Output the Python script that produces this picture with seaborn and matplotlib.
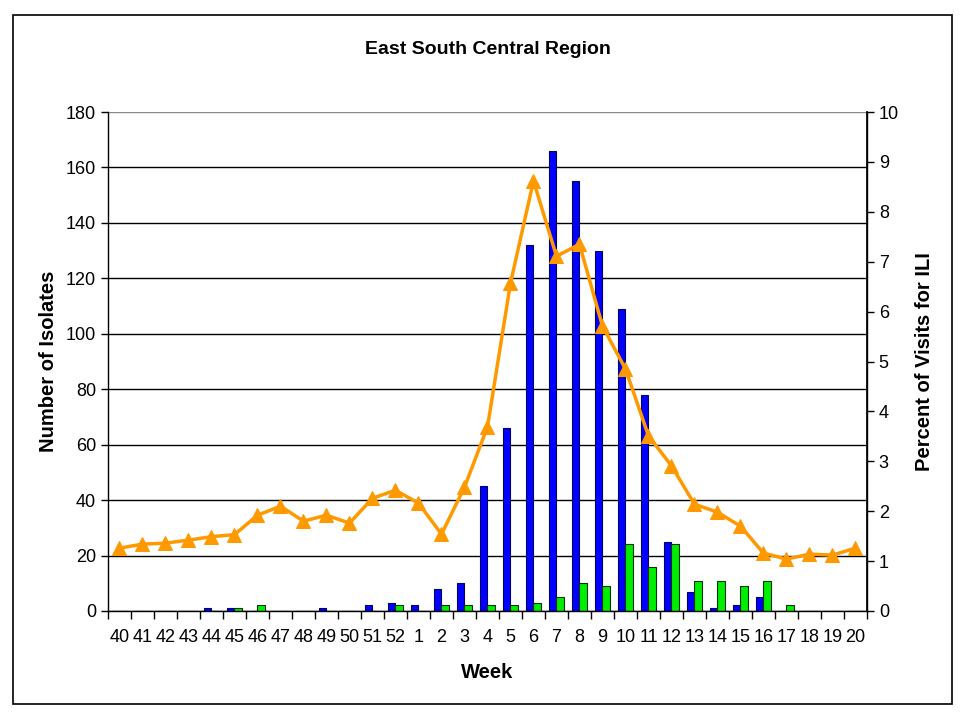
import matplotlib
import matplotlib.pyplot as plt
import numpy as np
import pandas as pd
import seaborn as sns
from matplotlib.patches import Rectangle

matplotlib.use('Agg')

# week labels (season 40 .. 52, then 1 .. 20)
weeks = [str(w) for w in list(range(40, 53)) + list(range(1, 21))]

# number of isolates
flu_a = [0, 0, 0, 0, 1, 1, 0, 0, 0, 1, 0, 2, 3,
         2, 8, 10, 45, 66, 132, 166, 155, 130, 109, 78, 25,
         7, 1, 2, 5, 0, 0, 0, 0]
flu_b = [0, 0, 0, 0, 0, 1, 2, 0, 0, 0, 0, 0, 2,
         0, 2, 2, 2, 2, 3, 5, 10, 9, 24, 16, 24,
         11, 11, 9, 11, 2, 0, 0, 0]

# percent of visits for ILI (right axis)
ili_pct = [1.26, 1.34, 1.36, 1.42, 1.49, 1.53, 1.92, 2.10, 1.80, 1.92, 1.76, 2.26, 2.42,
           2.16, 1.54, 2.48, 3.69, 6.57, 8.62, 7.11, 7.35, 5.71, 4.85, 3.51, 2.91,
           2.14, 1.98, 1.70, 1.16, 1.04, 1.14, 1.12, 1.26]

sns.set_theme(style='white')
plt.rcParams['font.family'] = ['Liberation Sans', 'DejaVu Sans']
plt.rcParams['text.color'] = 'black'
plt.rcParams['axes.labelcolor'] = 'black'

df = pd.DataFrame({
    'week': weeks * 2,
    'isolates': flu_a + flu_b,
    'type': ['A'] * len(weeks) + ['B'] * len(weeks),
})

fig = plt.figure(figsize=(9.6, 7.2), dpi=100)
ax = fig.add_axes([0.1125, 0.1514, 0.7906, 0.6930])

sns.barplot(data=df, x='week', y='isolates', hue='type', order=weeks,
            palette={'A': '#0000FF', 'B': '#00EE00'}, width=0.62,
            saturation=1, legend=False, ax=ax)
edge_colors = ['#000066', '#003300']
for cont, ec in zip(ax.containers, edge_colors):
    for bar in cont:
        bar.set_edgecolor(ec)
        bar.set_linewidth(0.8)

ax.set_ylim(0, 180)
ax.set_yticks(range(0, 181, 20))
ax.set_xlim(-0.5, len(weeks) - 0.5)
ax.set_axisbelow(True)
ax.yaxis.grid(True, color='black', linewidth=1)
ax.yaxis.get_gridlines()[-1].set_color('#888888')

# category labels centred, ticks between categories
ax.set_xticks(np.arange(len(weeks)))
ax.set_xticklabels(weeks)
ax.set_xticks(np.arange(len(weeks) + 1) - 0.5, minor=True)
ax.tick_params(axis='x', which='major', length=0, labelsize=13, pad=13, colors='black')
ax.tick_params(axis='x', which='minor', length=6, width=1, color='black', direction='out', bottom=True)
ax.tick_params(axis='y', length=5, width=1, color='black', direction='out', left=True,
               labelsize=13, colors='black')

for side in ['left', 'bottom', 'right']:
    ax.spines[side].set_color('black')
    ax.spines[side].set_linewidth(1)
ax.spines['top'].set_visible(False)

ax.set_xlabel('Week', fontsize=14.5, fontweight='bold', labelpad=12)
ax.set_ylabel('Number of Isolates', fontsize=14.5, fontweight='bold', labelpad=6)
ax.set_title('East South Central Region', fontsize=14, fontweight='bold', pad=42)

# ILI percent on the secondary axis
ax2 = ax.twinx()
sns.lineplot(x=np.arange(len(weeks)), y=ili_pct, color='#FF9900', linewidth=2.5,
             marker='^', markersize=9.5, markeredgecolor='#FF9900', ax=ax2)
ax2.set_ylim(0, 10)
ax2.set_yticks(range(0, 11))
ax2.set_xlim(-0.5, len(weeks) - 0.5)
ax2.tick_params(axis='y', length=5, width=1, color='black', direction='out', right=True,
                labelsize=13, colors='black')
for side in ['top', 'left', 'bottom']:
    ax2.spines[side].set_visible(False)
ax2.spines['right'].set_color('black')
ax2.set_ylabel('Percent of Visits for ILI', fontsize=14.5, fontweight='bold', labelpad=11.5)

# outer chart border
fig.add_artist(Rectangle((0.0135, 0.022), 0.978, 0.957, transform=fig.transFigure,
                         fill=False, edgecolor='black', linewidth=1.2))

fig.savefig('out.png', dpi=100)
